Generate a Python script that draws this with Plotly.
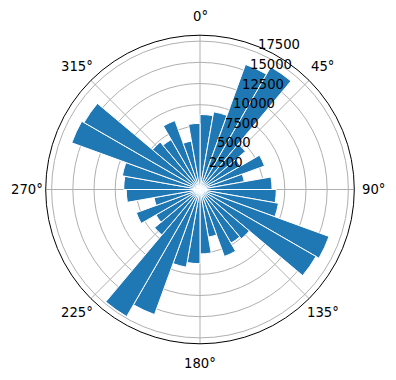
import math
import plotly.graph_objects as go

# Direction bins (degrees, centre of each 10° sector) and counts
directions = [5 + 10 * i for i in range(36)]
counts = [8850, 9300, 15700, 16700, 7000, 5500, 8100, 5300, 8500,
          9000, 9400, 16200, 15800, 7600, 7300, 8400, 5700, 7600,
          8750, 9300, 15700, 17300, 7000, 6000, 8000, 5500, 8700,
          9000, 9300, 16100, 15800, 7300, 6800, 8650, 5800, 7800]
radial_ticks = [2500, 5000, 7500, 10000, 12500, 15000, 17500]
angle_ticks = [0, 45, 90, 135, 180, 225, 270, 315]
r_max = 18200

W, H = 396, 380
cx, cy, R = 200.0, 189.5, 154.3      # polar centre / radius in px
label_angle = 22.5                   # radial labels, clockwise from north
theta_label_r = 173.5                # px radius of angular label centres

fig = go.Figure()
fig.add_trace(go.Barpolar(
    r=counts,
    theta=directions,
    width=[10] * len(directions),
    marker=dict(color="#1f77b4", line=dict(color="white", width=1)),
    opacity=1,
))

font = dict(family="DejaVu Sans", size=13.2, color="black")


def to_paper(px, py):
    return px / W, 1 - py / H


annotations = []
# radial tick labels placed through the radial scale
for v in radial_ticks:
    rp = v / r_max * R
    px = cx + rp * math.sin(math.radians(label_angle))
    py = cy - rp * math.cos(math.radians(label_angle))
    x, y = to_paper(px, py)
    annotations.append(dict(
        x=x, y=y, xref="paper", yref="paper",
        text=str(v), showarrow=False, xanchor="left", yanchor="bottom",
        font=font, xshift=-1, yshift=-2,
    ))
# angular tick labels
for a in angle_ticks:
    px = cx + theta_label_r * math.sin(math.radians(a))
    py = cy - theta_label_r * math.cos(math.radians(a))
    x, y = to_paper(px, py)
    annotations.append(dict(
        x=x, y=y, xref="paper", yref="paper",
        text=f"{a}°", showarrow=False, xanchor="center", yanchor="middle",
        font=font,
    ))

fig.update_layout(
    width=W, height=H,
    margin=dict(l=0, r=0, t=0, b=0),
    paper_bgcolor="white",
    showlegend=False,
    font=font,
    annotations=annotations,
    polar=dict(
        domain=dict(x=[(cx - R) / W, (cx + R) / W],
                    y=[1 - (cy + R) / H, 1 - (cy - R) / H]),
        bgcolor="white",
        angularaxis=dict(
            rotation=90, direction="clockwise",
            tickmode="array", tickvals=angle_ticks,
            showticklabels=False,
            showline=True, linecolor="black", linewidth=1,
            gridcolor="#b0b0b0", gridwidth=0.8,
            ticks="",
            layer="below traces",
        ),
        radialaxis=dict(
            range=[0, r_max],
            tickmode="array", tickvals=radial_ticks,
            showticklabels=False,
            showline=False, ticks="",
            gridcolor="#b0b0b0", gridwidth=0.8,
            layer="below traces",
        ),
    ),
)

fig.write_html("out.html")
